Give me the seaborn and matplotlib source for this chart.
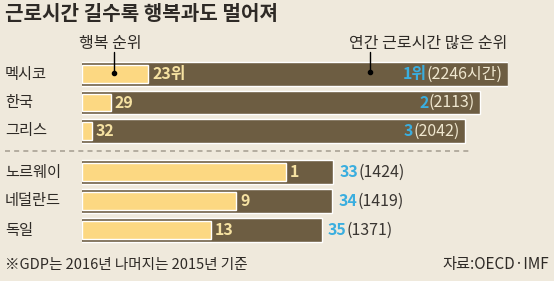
import matplotlib
matplotlib.use("Agg")
import matplotlib.pyplot as plt
import seaborn as sns
import pandas as pd
from matplotlib.lines import Line2D

# ---- data ----
countries = ["멕시코", "한국", "그리스", "노르웨이", "네덜란드", "독일"]
happy_rank = [23, 29, 32, 1, 9, 13]
work_rank = [1, 2, 3, 33, 34, 35]
hours = [2246, 2113, 2042, 1424, 1419, 1371]
happy_labels = ["23위", "29", "32", "1", "9", "13"]
work_labels = ["1위", "2", "3", "33", "34", "35"]
hour_labels = ["(2246시간)", "(2113)", "(2042)", "(1424)", "(1419)", "(1371)"]

title = "근로시간 길수록 행복과도 멀어져"
note = "※GDP는 2016년 나머지는 2015년 기준"
source = "자료:OECD·IMF"

# ---- style ----
sns.set_theme(style="white")
plt.rcParams["font.family"] = ["Noto Sans CJK KR", "DejaVu Sans"]

BG = "#efe9dc"
DARK = "#6d5d42"
LIGHT = "#fcd882"
BLUE = "#3aaedf"
INLABEL = "#f6e2a2"
INHOUR = "#efe7cf"
TXT = "#2e2a26"

W, H = 554, 281
fig = plt.figure(figsize=(W / 100, H / 100), dpi=100, facecolor=BG)


def fx(px):
    return px / W


def fy(py):
    return 1 - py / H


df = pd.DataFrame({"country": countries, "happy": happy_rank, "work": work_rank,
                   "hours": hours})
df["happy_len"] = 33.6 - df["happy"]

x0_px, x1_px = 82, 508
groups = [(0, 3, 59.75, 145.25, True), (3, 6, 157.5, 244.5, False)]

for start, stop, top_px, bot_px, inside in groups:
    sub = df.iloc[start:stop].reset_index(drop=True)
    ax = fig.add_axes([fx(x0_px), fy(bot_px), (x1_px - x0_px) / W, (bot_px - top_px) / H])
    sns.barplot(data=sub, x="hours", y="country", orient="h", ax=ax, color=DARK,
                saturation=1, width=0.84, order=list(sub["country"]))
    ax.set_xlim(242, 2246)
    ax.set_ylim(2.5, -0.5)
    ax2 = ax.twiny()
    sns.barplot(data=sub, x="happy_len", y="country", orient="h", ax=ax2, color=LIGHT,
                saturation=1, width=0.62, order=list(sub["country"]))
    ax2.set_xlim(0, 426 / 6.26)
    ax2.set_ylim(2.5, -0.5)
    for a in (ax, ax2):
        a.axis("off")

    for i in range(len(sub)):
        k = start + i
        # country label
        fig.text(fx(5), fy((top_px + (bot_px - top_px) * (i + 0.5) / 3)), countries[k],
                 ha="left", va="center", fontsize=11, color=TXT)
        # happiness rank label
        ax2.annotate(happy_labels[k], xy=(sub["happy_len"][i], i), xytext=(4, 0),
                     textcoords="offset pixels", ha="left", va="center",
                     fontsize=11.5, color=INLABEL, fontweight="bold")
        if inside:
            t1 = ax.annotate(hour_labels[k], xy=(sub["hours"][i], i), xytext=(-5, 0),
                             textcoords="offset pixels", ha="right", va="center",
                             fontsize=11.5, color=INHOUR)
            ax.annotate(work_labels[k], xy=(0, 0.5), xycoords=t1, ha="right",
                        va="center", fontsize=11.5, color=BLUE, fontweight="bold")
        else:
            t1 = ax.annotate(work_labels[k], xy=(sub["hours"][i], i), xytext=(6, 0),
                             textcoords="offset pixels", ha="left", va="center",
                             fontsize=11.5, color=BLUE, fontweight="bold",
                             annotation_clip=False)
            ax.annotate(hour_labels[k], xy=(1, 0.5), xycoords=t1, ha="left",
                        va="center", fontsize=11.5, color="#3a3632")

# title
fig.text(fx(5), fy(14), title, ha="left", va="center", fontsize=14.5,
         fontweight="bold", color=TXT)

# header pointers
fig.text(fx(110), fy(43), "행복 순위", ha="center", va="center", fontsize=11.5, color=TXT)
fig.add_artist(Line2D([fx(114), fx(114)], [fy(52), fy(73)], color="black", lw=1))
fig.add_artist(Line2D([fx(114)], [fy(73)], marker="o", ms=3, color="black"))
fig.text(fx(507), fy(43), "연간 근로시간 많은 순위", ha="right", va="center",
         fontsize=11.5, color=TXT)
fig.add_artist(Line2D([fx(370), fx(370)], [fy(52), fy(72)], color="black", lw=1))
fig.add_artist(Line2D([fx(370)], [fy(72)], marker="o", ms=3, color="black"))

# dashed separator
fig.add_artist(Line2D([fx(5), fx(470)], [fy(151), fy(151)], color="#aaa396",
                      lw=1.2, ls=(0, (3, 2.5))))

# footer
fig.text(fx(5), fy(265), note, ha="left", va="center", fontsize=10.5, color=TXT)
fig.text(fx(549), fy(265), source, ha="right", va="center", fontsize=11, color=TXT)

fig.savefig("out.png", dpi=100, facecolor=BG)
